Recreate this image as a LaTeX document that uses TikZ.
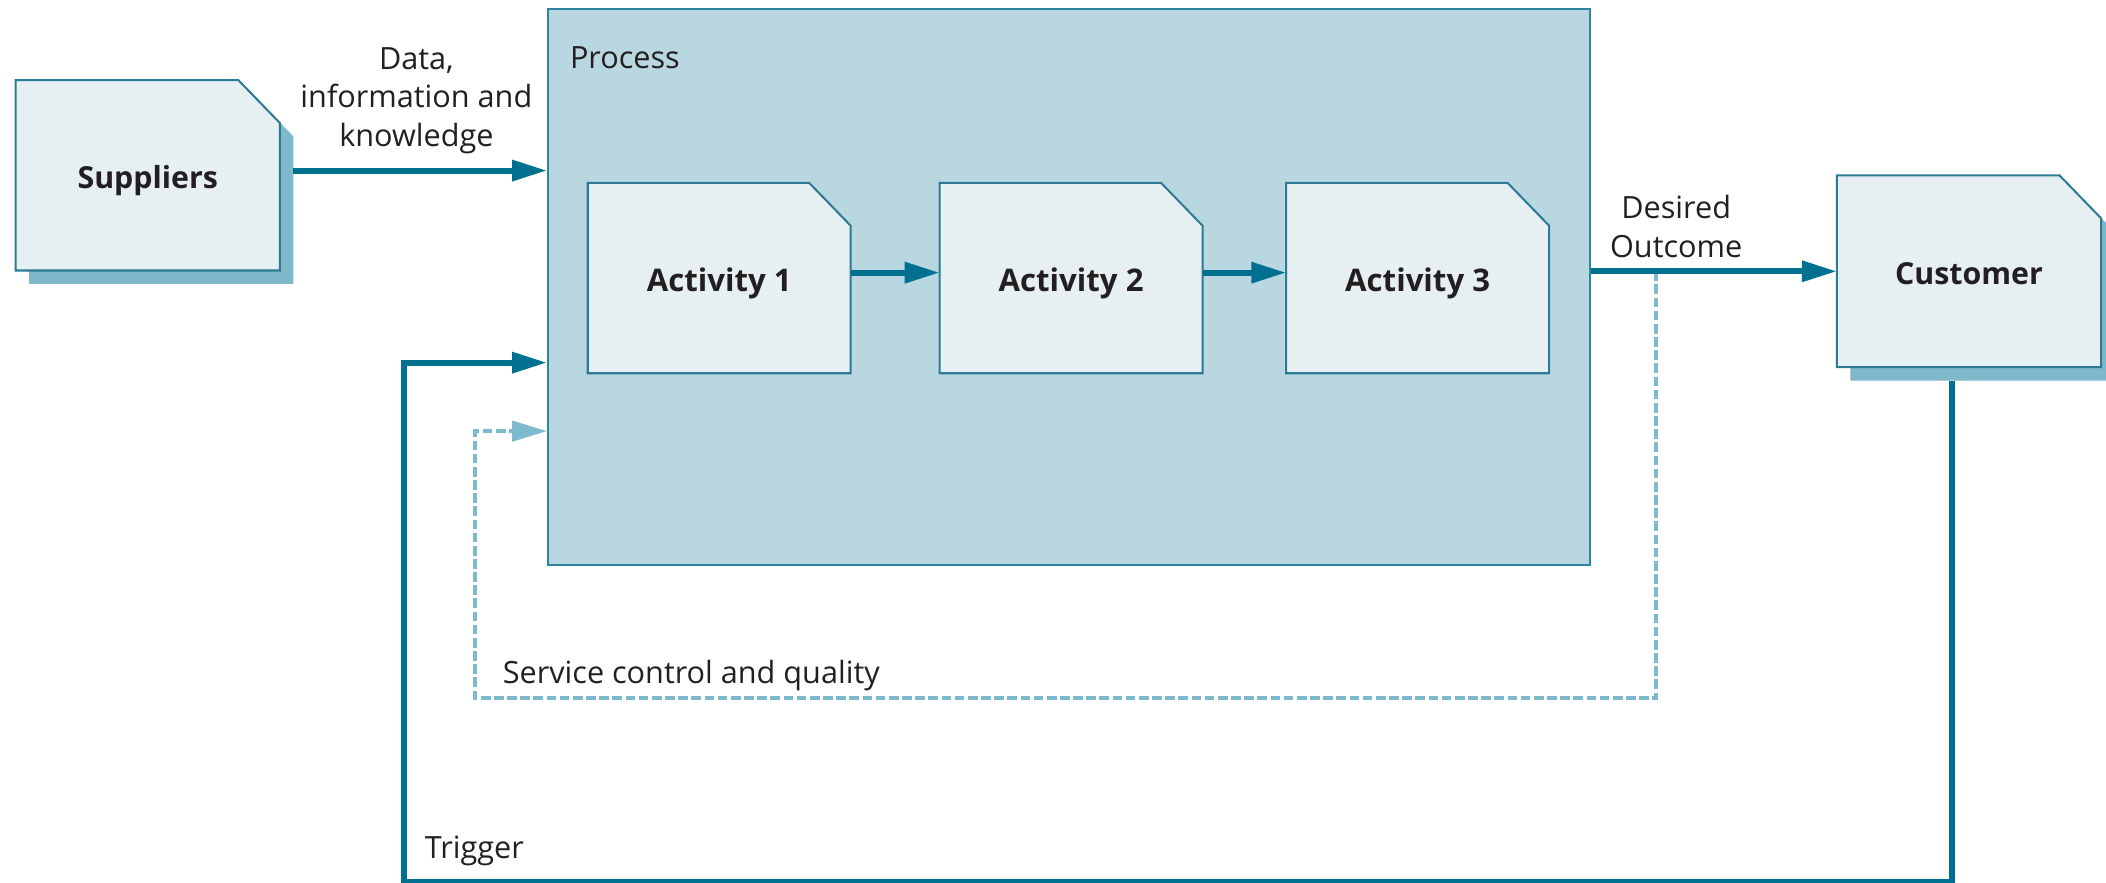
\documentclass[tikz,border=0pt]{standalone}
\usepackage{fontspec}
\setmainfont{Open Sans}
\usetikzlibrary{arrows.meta,calc}
\definecolor{darkteal}{HTML}{007091}
\definecolor{dashblue}{HTML}{7DBACD}
\definecolor{procfill}{HTML}{B8D7E1}
\definecolor{procline}{HTML}{2F84A0}
\definecolor{boxfill}{HTML}{E6EFF2}
\definecolor{boxline}{HTML}{2C7A93}
\definecolor{shadowcol}{HTML}{7EB8CB}
\definecolor{txt}{HTML}{231F20}
\pgfdeclarelayer{bg}
\pgfdeclarelayer{mid}
\pgfsetlayers{bg,mid,main}
\newcommand{\champath}[3]{([shift={(#2,#3)}]#1.south west) -- ([shift={(#2,#3)}]#1.north west) -- ([shift={(#2-15.5pt,#3)}]#1.north east) -- ([shift={(#2,#3-16pt)}]#1.north east) -- ([shift={(#2,#3)}]#1.south east) -- cycle}
\tikzset{
  boxnode/.style={minimum width=97.5pt, minimum height=70.5pt, inner sep=0pt,
    font=\bfseries\fontsize{11.3}{13}\selectfont, text=txt, text height=12.6pt, text depth=3pt},
  actnode/.style={boxnode, text height=13pt, font=\bfseries\fontsize{11.6}{13}\selectfont},
  shapeline/.style={fill=boxfill, draw=boxline, line width=0.75pt},
  shadowfill/.style={fill=shadowcol},
  arr/.style={draw=darkteal, line width=2.2pt, -{Triangle[length=13pt,width=7.5pt]}},
  dasharr/.style={draw=dashblue, line width=1.5pt, dash pattern=on 3.6pt off 1.3pt,
    -{Triangle[length=13pt,width=7.5pt]}},
  lbl/.style={font=\fontsize{11.4}{14.5}\selectfont, text=txt, inner sep=0pt},
}
\begin{document}
\begin{tikzpicture}[x=0.5pt,y=-0.5pt]
\useasboundingbox (0,0) rectangle (1568,657);
% process container
\begin{pgfonlayer}{bg}
\node[draw=procline, fill=procfill, line width=0.75pt, minimum width=388pt,
  minimum height=207pt, inner sep=0pt] (proc) at (796,214) {};
\end{pgfonlayer}
% boxes
\node[boxnode, minimum width=98pt] (sup) at (110,130.5) {Suppliers};
\node[actnode] (act1) at (535.5,207) {Activity 1};
\node[actnode] (act2) at (797.5,207) {Activity 2};
\node[actnode] (act3) at (1055.5,207) {Activity 3};
\node[boxnode, minimum width=98pt, minimum height=71pt] (cust) at (1466,202) {Customer};
\begin{pgfonlayer}{mid}
\fill[shadowfill] \champath{sup}{5pt}{-5pt};
\fill[shadowfill] \champath{cust}{5pt}{-5pt};
\draw[shapeline] \champath{sup}{0pt}{0pt};
\draw[shapeline] \champath{cust}{0pt}{0pt};
\draw[shapeline] \champath{act1}{0pt}{0pt};
\draw[shapeline] \champath{act2}{0pt}{0pt};
\draw[shapeline] \champath{act3}{0pt}{0pt};
\end{pgfonlayer}
% labels
\node[lbl, align=center] (datalbl) at (310,75) {Data,\\information and\\knowledge};
\node[lbl, anchor=base west] (proclbl) at (424,51) {Process};
\node[lbl, align=center] (deslbl) at (1248,169) {Desired\\Outcome};
\node[lbl, anchor=base west] (sclbl) at (374,509) {Service control and quality};
\node[lbl, anchor=base west] (trglbl) at (316,639) {Trigger};
% coordinates
\coordinate (supout) at ([xshift=5pt,yshift=1.75pt]sup.east);
\coordinate (procout) at (proc.east |- cust.west);
\coordinate (fbtap) at (1233,202);
\coordinate (fbcorner) at (354,520);
\coordinate (fbin) at (354,321);
\coordinate (trgcorner) at (301,656.5);
\coordinate (trgin) at (301,270);
% connectors
\draw[dasharr] (fbtap) |- (fbcorner) -- (fbin) -- (proc.west |- fbin);
\draw[arr] (supout) -- (proc.west |- supout);
\draw[arr] ([yshift=2pt]act1.east) -- ([yshift=2pt]act2.west);
\draw[arr] ([yshift=2pt]act2.east) -- ([yshift=2pt]act3.west);
\draw[arr] (procout) -- (cust.west);
\draw[arr] ([shift={(-6.5pt,-5pt)}]cust.south) |- (trgcorner) -- (trgin) -- (proc.west |- trgin);
\end{tikzpicture}
\end{document}
